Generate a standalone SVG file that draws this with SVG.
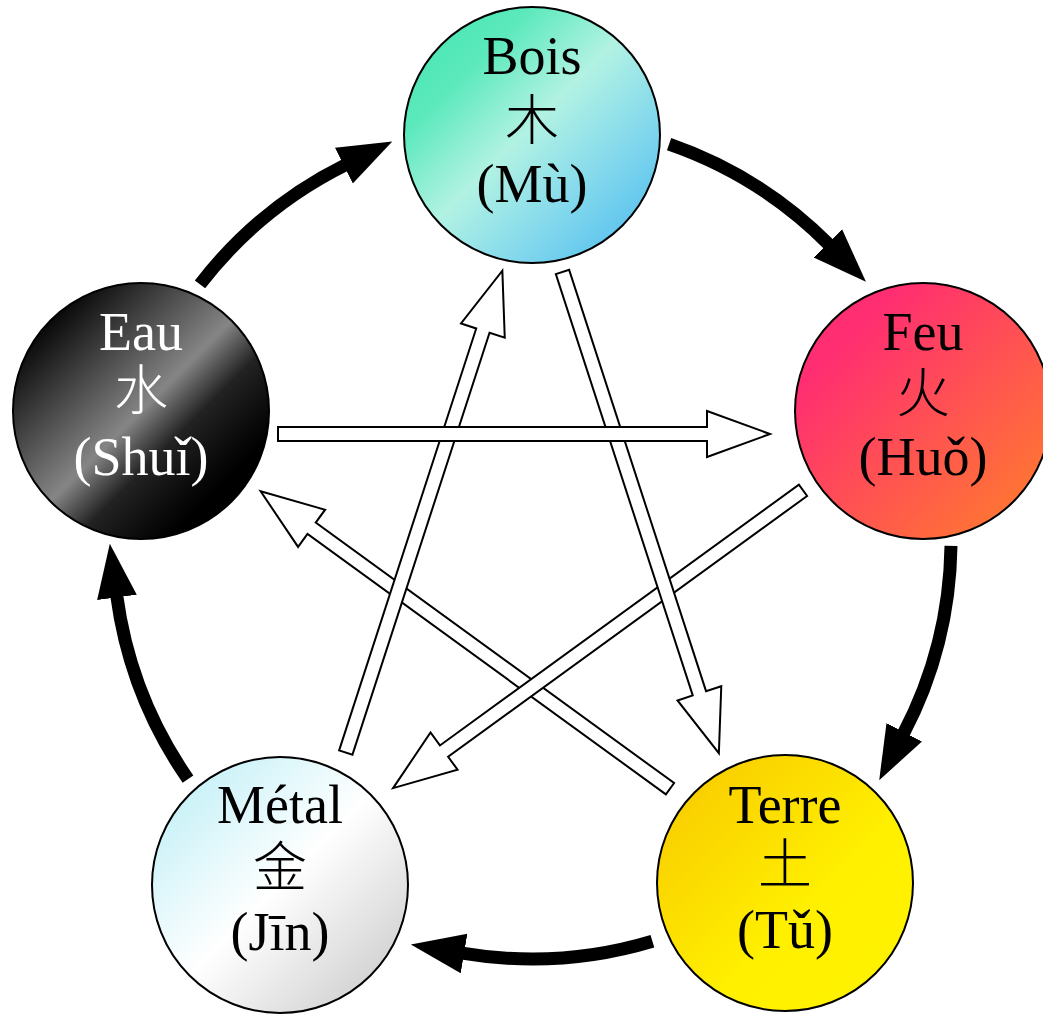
<svg xmlns="http://www.w3.org/2000/svg" width="1043" height="1014" viewBox="0 0 1043 1014">
<style>
.node{stroke:#000;stroke-width:2}
.lat{font-family:"Liberation Serif","Times New Roman",serif;font-size:54px;text-anchor:middle}
.cjk{font-family:"Noto Sans CJK SC","Noto Sans CJK JP",sans-serif;font-size:54px;font-weight:300;text-anchor:middle}
.dark{fill:#000}
.light{fill:#fff}
.cyc{fill:none;stroke:#000;stroke-width:13;marker-end:url(#ah)}
.ctl{fill:#fff;stroke:#000;stroke-width:2;stroke-linejoin:miter}
</style>
<defs>
<linearGradient id="gBois" x1="0" y1="0" x2="1" y2="1">
<stop offset="0" stop-color="#3fe6b0"/>
<stop offset="0.25" stop-color="#5ce9bc"/>
<stop offset="0.48" stop-color="#b2f2e3"/>
<stop offset="0.7" stop-color="#84d9ec"/>
<stop offset="1" stop-color="#45b6f0"/>
</linearGradient>
<linearGradient id="gFeu" x1="0" y1="0" x2="1" y2="1">
<stop offset="0.2" stop-color="#ff2d72"/>
<stop offset="0.85" stop-color="#ff7236"/>
</linearGradient>
<linearGradient id="gEau" x1="0" y1="0" x2="1" y2="1">
<stop offset="0" stop-color="#000"/>
<stop offset="0.15" stop-color="#0a0a0a"/>
<stop offset="0.5" stop-color="#858585"/>
<stop offset="0.62" stop-color="#222"/>
<stop offset="0.8" stop-color="#000"/>
<stop offset="1" stop-color="#000"/>
</linearGradient>
<linearGradient id="gMetal" x1="0" y1="0" x2="1" y2="1">
<stop offset="0" stop-color="#b5edf5"/>
<stop offset="0.5" stop-color="#ffffff"/>
<stop offset="1" stop-color="#c4c4c4"/>
</linearGradient>
<linearGradient id="gTerre" x1="0" y1="0" x2="1" y2="1">
<stop offset="0" stop-color="#f8c600"/>
<stop offset="0.6" stop-color="#fff000"/>
<stop offset="0.85" stop-color="#fff200"/>
<stop offset="1" stop-color="#d8c400"/>
</linearGradient>
<marker id="ah" markerUnits="userSpaceOnUse" orient="auto" markerWidth="56" markerHeight="44" refX="2" refY="22" viewBox="0 0 56 44">
<path d="M0,2 L54,22 L0,42 z" fill="#000"/>
</marker>
</defs>

<g id="connectors">
<path class="cyc" d="M200.0,284.4 A419,419 0 0,1 345.7,164.7"/>
<path class="cyc" d="M669.1,144.1 A419,419 0 0,1 829.3,244.8"/>
<path class="cyc" d="M951.0,545.9 A419,419 0 0,1 903.3,734.1"/>
<path class="cyc" d="M652.4,941.3 A419,419 0 0,1 462.1,953.1"/>
<path class="cyc" d="M188.0,779.1 A419,419 0 0,1 116.7,595.4"/>
<polygon class="ctl" transform="translate(670,788.7) rotate(-144)" points="0,-7 443,-7 443,-23 506,0 443,23 443,7 0,7"/>
<polygon class="ctl" transform="translate(803,490.3) rotate(144)" points="0,-7 443.7,-7 443.7,-23 506.7,0 443.7,23 443.7,7 0,7"/>
<polygon class="ctl" transform="translate(345.8,752.5) rotate(-72)" points="0,-7 443.6,-7 443.6,-23 506.6,0 443.6,23 443.6,7 0,7"/>
<polygon class="ctl" transform="translate(562.5,272) rotate(72)" points="0,-7 443,-7 443,-23 506,0 443,23 443,7 0,7"/>
<polygon class="ctl" transform="translate(278,434)" points="0,-7 429,-7 429,-23 492,0 429,23 429,7 0,7"/>
</g>

<g id="bois">
<circle class="node" cx="532" cy="135" r="128" fill="url(#gBois)"/>
<text class="lat dark" x="532" y="74">Bois</text>
<text class="cjk dark" x="532" y="140">木</text>
<text class="lat dark" x="532" y="202">(Mù)</text>
</g>
<g id="feu">
<circle class="node" cx="923" cy="411" r="128" fill="url(#gFeu)"/>
<text class="lat dark" x="923" y="350">Feu</text>
<text class="cjk dark" x="923" y="413">火</text>
<text class="lat dark" x="923" y="475">(Huǒ)</text>
</g>
<g id="eau">
<circle class="node" cx="141" cy="411" r="128" fill="url(#gEau)"/>
<text class="lat light" x="141" y="350">Eau</text>
<text class="cjk light" x="141" y="410">水</text>
<text class="lat light" x="141" y="475">(Shuǐ)</text>
</g>
<g id="metal">
<circle class="node" cx="280" cy="885" r="128" fill="url(#gMetal)"/>
<text class="lat dark" x="280" y="823">Métal</text>
<text class="cjk dark" x="280" y="887">金</text>
<text class="lat dark" x="280" y="950">(Jīn)</text>
</g>
<g id="terre">
<circle class="node" cx="785" cy="883" r="128" fill="url(#gTerre)"/>
<text class="lat dark" x="785" y="823">Terre</text>
<text class="cjk dark" x="785" y="884">土</text>
<text class="lat dark" x="785" y="948">(Tǔ)</text>
</g>
</svg>
